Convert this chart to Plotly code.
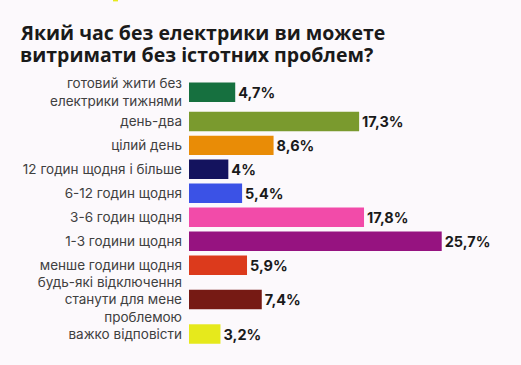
import plotly.graph_objects as go

categories = [
    "готовий жити без<br>електрики тижнями",
    "день-два",
    "цілий день",
    "12 годин щодня і більше",
    "6-12 годин щодня",
    "3-6 годин щодня",
    "1-3 години щодня",
    "менше години щодня",
    "будь-які відключення<br>станути для мене<br>проблемою",
    "важко відповісти",
]
values = [4.7, 17.3, 8.6, 4.0, 5.4, 17.8, 25.7, 5.9, 7.4, 3.2]
colors = ["#16703f", "#7a9a2e", "#e98c06", "#14135e", "#3b52e6",
          "#f24ba9", "#961380", "#dc3a1c", "#761a14", "#e6e91c"]
title_lines = ["Який час без електрики ви можете",
               "витримати без істотних проблем?"]
legend_fragment = "важко відповісти"

# row slot heights depend on number of label lines
slot = [24 + 10.5 * (c.count("<br>")) for c in categories]
pos = []
acc = 0.0
for h in slot:
    pos.append(acc + h / 2)
    acc += h
total = acc

labels = [f"{v:g}".replace(".", ",") + "%" for v in values]

W, H = 521, 365
L, R = 189, 37
top = 74.75
PW = W - L - R


def px_x(px):
    return (px - L) / PW


def px_y(py):
    return 1 - (py - top) / total


fig = go.Figure(go.Bar(
    x=values, y=pos, orientation="h",
    marker=dict(color=colors, line=dict(width=0)),
    width=19.5,
    text=labels, textposition="outside",
    textfont=dict(family="Inter", size=14.5, color="#1a1a1a", weight="bold"),
    cliponaxis=False,
    hoverinfo="skip",
))

title_font = dict(family="Open Sans", size=19.5, color="#1a1a1a", weight="bold")
annotations = []
for i, (line, cy) in enumerate(zip(title_lines, [32.5, 54])):
    annotations.append(dict(text=line, xref="paper", yref="paper",
                            x=px_x(18), y=px_y(cy), xanchor="left", yanchor="middle",
                            showarrow=False, font=title_font))
annotations.append(dict(text=legend_fragment, xref="paper", yref="paper",
                        x=px_x(124), y=px_y(-3), xanchor="left", yanchor="bottom",
                        showarrow=False,
                        font=dict(family="Inter", size=11, color="#9a9a9a")))

fig.update_layout(
    width=W, height=H,
    margin=dict(l=L, r=R, t=top, b=H - top - total, autoexpand=False),
    paper_bgcolor="#fcf9fc", plot_bgcolor="#fcf9fc",
    showlegend=False,
    xaxis=dict(range=[0, 30], visible=False, fixedrange=True),
    yaxis=dict(range=[total, 0], tickvals=pos, ticktext=categories,
               showgrid=False, zeroline=False, showline=False, fixedrange=True,
               ticks="", ticklabelstandoff=6, automargin=False,
               tickfont=dict(family="Inter", size=13.5, color="#404040")),
    annotations=annotations,
    shapes=[dict(type="rect", xref="paper", yref="paper",
                 x0=px_x(113), x1=px_x(118), y0=px_y(-10), y1=px_y(1),
                 fillcolor="#e6e91c", line=dict(width=0), layer="above")],
)

fig.write_html("out.html",
               config={"displayModeBar": False},
               post_script="document.body.style.margin='0';document.body.style.padding='0';"
                           "document.body.style.overflow='hidden';")
